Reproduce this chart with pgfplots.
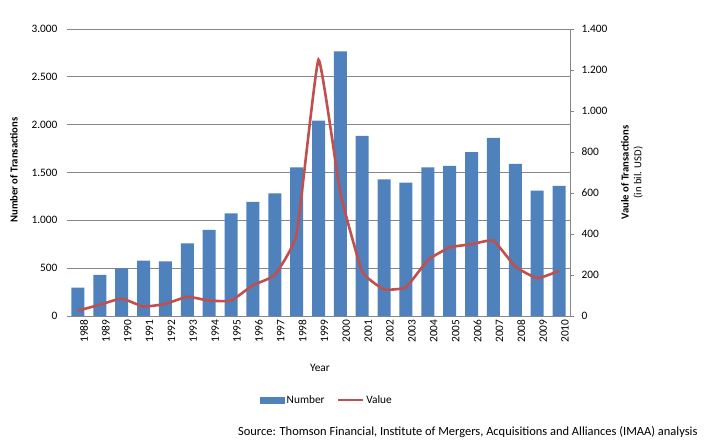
\documentclass[border=0pt]{standalone}
\usepackage{fontspec}
\setmainfont{Carlito}
\usepackage{pgfplots}
\pgfplotsset{compat=1.18}
\definecolor{barblue}{HTML}{4F81BD}
\definecolor{linered}{HTML}{C0504D}
\definecolor{gridgray}{HTML}{868686}
\begin{document}
\begin{tikzpicture}
\pgfplotsset{every axis/.append style={scale only axis, width=503bp, height=287bp,
  xmin=1987.5, xmax=2010.5, at={(0bp,0bp)}, anchor=south west,
  tick label style={font=\fontsize{11.4}{13}\selectfont},
  /pgf/number format/assume math mode=true}}
\path[use as bounding box] (-67bp,-127bp) rectangle (640bp,316bp);
\begin{axis}[
  ymin=0, ymax=3000, ytick={0,500,...,3000},
  ymajorgrids, grid style={gridgray, line width=0.7bp},
  axis x line*=bottom, axis y line*=left,
  y axis line style={draw=none},
  x axis line style={gridgray, line width=0.8bp, -},
  xtick={1988,...,2010},
  x tick label style={rotate=90, anchor=east, yshift=-6bp, /pgf/number format/.cd, 1000 sep={}},
  y tick label style={xshift=-6bp, /pgf/number format/.cd, fixed, 1000 sep={.}},
  major tick length=0,
  ybar, bar width=13bp,
]
\addplot[fill=barblue, draw=none] coordinates {
(1988,296) (1989,429) (1990,498) (1991,578) (1992,571) (1993,760) (1994,899)
(1995,1073) (1996,1192) (1997,1282) (1998,1554) (1999,2042) (2000,2767)
(2001,1882) (2002,1429) (2003,1394) (2004,1554) (2005,1568) (2006,1714)
(2007,1861) (2008,1589) (2009,1310) (2010,1359)};
\end{axis}
\begin{axis}[
  ymin=0, ymax=1400, ytick={0,200,...,1400},
  axis y line*=right, axis x line=none,
  y axis line style={gridgray, line width=0.8bp, -},
  ytick style={gridgray, line width=0.8bp},
  tick align=outside, major tick length=4bp,
  y tick label style={xshift=4bp, /pgf/number format/.cd, fixed, 1000 sep={.}},
  legend style={at={(0.517,-0.293)}, anchor=center, draw=none, legend columns=2,
    font=\fontsize{11.4}{13}\selectfont,
    /tikz/every even column/.append style={column sep=10bp}},
]
\addplot[linered, line width=2.6bp, smooth, tension=0.22, forget plot] coordinates {
(1988,26) (1989,55) (1990,85) (1991,46) (1992,59) (1993,94) (1994,75)
(1995,75) (1996,150) (1997,200) (1998,400) (1999,1250) (2000,600)
(2001,216) (2002,130) (2003,140) (2004,273) (2005,335) (2006,350)
(2007,368) (2008,241) (2009,184) (2010,220)};
\addlegendimage{legend image code/.code={\fill[barblue] (0bp,-3bp) rectangle (24bp,3bp);}}
\addlegendentry{Number}
\addlegendimage{legend image code/.code={\draw[linered, line width=2.6bp] (0bp,0bp) -- (25bp,0bp);}}
\addlegendentry{Value}
\end{axis}
\node[rotate=90, font=\bfseries\fontsize{10.7}{13}\selectfont] at (-53bp,146bp) {Number of Transactions};
\node[rotate=90, align=center, font=\fontsize{10.7}{13}\selectfont] at (565bp,143.5bp) {\textbf{Vaule of Transactions}\\(in bil. USD)};
\node[font=\fontsize{11.4}{13}\selectfont] at (253bp,-52bp) {Year};
\node[anchor=east, font=\fontsize{12.5}{15}\selectfont] at (634bp,-116bp) {Source: Thomson Financial, Institute of Mergers, Acquisitions and Alliances (IMAA) analysis};
\end{tikzpicture}
\end{document}
